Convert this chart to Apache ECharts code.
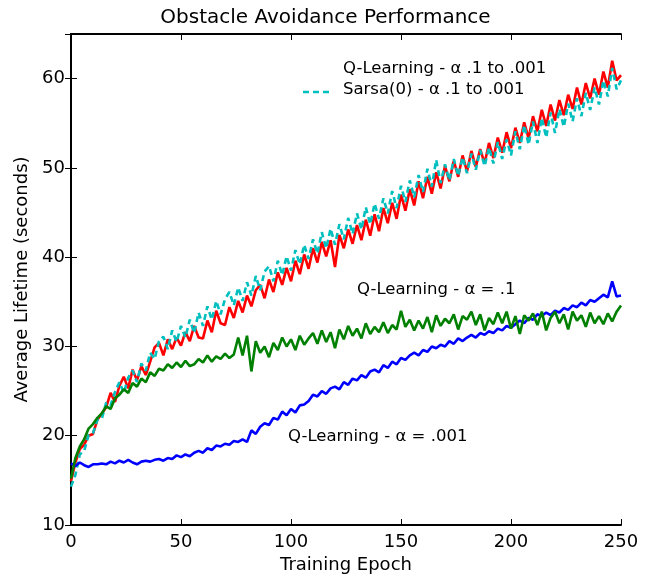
<!DOCTYPE html>
<html>
<head>
<meta charset="utf-8">
<script src="https://cdn.jsdelivr.net/npm/echarts@6/dist/echarts.min.js"></script>
<style>
  html, body { margin: 0; padding: 0; background: #fff; }
  #chart { width: 651px; height: 579px; }
</style>
</head>
<body>
<div id="chart"></div>
<script>
// training epochs (every 2nd epoch)
const epochs = [0,2,4,6,8,10,12,14,16,18,20,22,24,26,28,30,32,34,36,38,40,42,44,46,48,50,52,54,56,58,60,62,64,66,68,70,72,74,76,78,80,82,84,86,88,90,92,94,96,98,100,102,104,106,108,110,112,114,116,118,120,122,124,126,128,130,132,134,136,138,140,142,144,146,148,150,152,154,156,158,160,162,164,166,168,170,172,174,176,178,180,182,184,186,188,190,192,194,196,198,200,202,204,206,208,210,212,214,216,218,220,222,224,226,228,230,232,234,236,238,240,242,244,246,248,250];

// Q-Learning, alpha .1 to .001 (red)
const qDecay = [14.9,17.0,18.5,19.0,20.0,20.2,21.8,22.5,23.2,24.8,23.8,25.6,26.6,25.3,27.4,26.2,27.8,26.8,28.3,29.9,30.4,29.0,30.8,29.7,31.0,30.1,31.6,30.6,32.3,31.0,30.9,32.9,31.6,34.0,32.6,32.4,34.4,33.2,35.1,33.8,35.7,34.5,36.3,36.9,35.4,37.5,36.1,38.3,36.9,38.8,37.3,39.6,38.1,40.3,38.7,41.0,39.4,41.7,40.1,41.9,38.9,42.5,41.0,43.1,41.5,43.6,41.9,44.2,42.4,44.8,42.9,45.5,43.8,46.1,44.3,47.0,45.2,47.6,45.8,48.5,46.6,49.0,47.1,49.5,47.7,50.2,48.5,50.8,49.0,51.4,49.6,51.9,50.1,52.1,50.5,52.8,51.1,53.4,51.7,54.0,52.2,54.5,52.8,55.1,53.3,55.8,54.1,56.5,54.7,57.1,55.3,57.6,55.9,58.2,56.6,59.0,57.1,59.5,57.8,60.0,58.2,60.8,59.0,62.0,59.8,60.4];

// Sarsa(0), alpha .1 to .001 (cyan dashed)
const sarsa = [14.3,15.6,17.9,18.3,20.1,20.3,21.8,21.9,23.7,23.4,24.9,26.0,24.8,26.5,27.3,26.0,28.1,27.3,29.3,28.6,30.6,31.1,29.7,31.8,30.5,32.3,31.0,33.0,31.5,33.8,32.3,34.5,33.0,35.1,33.6,35.3,36.1,34.6,36.6,35.1,37.2,35.7,37.9,36.3,38.4,39.0,37.3,39.6,38.0,40.1,38.5,40.8,39.2,41.4,39.8,42.0,40.4,42.8,41.0,43.2,41.4,43.7,42.0,44.4,42.6,44.9,43.1,45.6,43.7,46.0,44.3,46.6,44.9,47.4,45.5,48.0,46.2,48.6,46.7,49.2,47.3,49.9,47.9,50.9,48.3,50.4,48.6,51.0,49.1,51.2,49.4,51.6,49.8,52.0,50.2,52.3,50.5,52.9,51.0,53.2,51.4,54.1,52.1,54.8,52.6,55.2,52.8,55.6,53.4,56.2,53.9,56.6,54.6,57.2,55.2,57.8,55.8,58.4,56.5,59.0,57.1,59.8,58.0,61.2,58.8,59.8];

// Q-Learning, alpha = .1 (green)
const qFast = [15.2,17.5,18.8,19.6,20.8,21.3,22.0,22.5,23.3,23.0,24.2,24.6,25.2,24.8,25.9,25.5,26.4,26.0,27.1,26.7,27.5,27.3,28.0,27.6,28.2,27.7,28.4,27.8,28.0,28.6,28.2,29.0,28.3,28.9,28.6,29.2,28.7,29.1,31.0,29.0,31.2,27.2,30.6,29.3,30.0,28.8,30.4,29.6,31.0,30.0,30.8,29.6,31.2,30.2,30.9,31.5,30.3,31.8,30.5,31.6,29.8,31.9,30.8,32.3,31.2,32.0,30.9,32.6,31.4,32.2,31.6,32.7,31.5,32.4,31.9,34.0,32.2,33.0,31.8,32.9,32.0,33.3,31.6,33.5,32.3,33.1,32.6,33.6,31.9,33.4,33.0,33.9,32.4,33.6,31.8,33.2,32.5,33.8,32.6,33.9,32.0,33.4,31.4,33.5,32.9,33.7,32.4,33.9,31.8,33.2,33.9,32.6,33.6,31.9,33.9,32.9,33.5,32.2,33.8,32.6,33.4,32.5,33.7,32.8,33.9,34.6];

// Q-Learning, alpha = .001 (blue)
const qSlow = [16.9,16.6,17.0,16.7,16.5,16.8,16.8,16.9,16.8,17.1,16.9,17.2,17.0,17.3,17.0,16.8,17.1,17.2,17.1,17.3,17.4,17.2,17.5,17.4,17.8,17.6,17.9,17.7,18.1,18.3,18.1,18.6,18.4,18.9,18.8,19.1,19.0,19.4,19.3,19.6,19.3,20.6,20.2,21.0,21.4,21.2,22.0,21.8,22.7,22.3,23.0,22.6,23.4,23.5,23.9,24.6,24.4,25.0,24.7,25.3,25.5,25.2,26.0,25.7,26.4,26.2,26.8,26.5,27.2,27.4,27.1,27.9,27.6,28.3,28.0,28.7,28.5,29.0,29.3,29.0,29.6,29.4,30.0,29.8,30.2,30.0,30.6,30.3,30.9,30.6,31.0,31.3,31.0,31.5,31.3,31.7,31.5,32.0,31.8,32.3,32.1,32.5,32.9,32.6,33.2,33.0,33.6,33.4,33.8,33.5,34.0,33.8,34.3,34.1,34.6,34.4,34.9,34.6,35.2,35.0,35.4,35.8,35.5,37.3,35.6,35.7];

const FONT = "DejaVu Sans";

function pairs(vals) {
  return epochs.map((e, i) => [e, vals[i]]);
}

function lineSeries(name, vals, color, dashed) {
  return {
    name: name,
    type: "line",
    data: pairs(vals),
    showSymbol: false,
    symbol: "none",
    animation: false,
    lineStyle: {
      color: color,
      width: 2.6,
      type: dashed ? [6, 4] : "solid",
    },
    z: 3,
  };
}

const axisLine = { show: true, lineStyle: { color: "#000", width: 2 } };
const axisTick = { show: true, inside: true, length: 6, lineStyle: { color: "#000", width: 1 } };

const chart = echarts.init(document.getElementById("chart"));
chart.setOption({
  backgroundColor: "#fff",
  animation: false,
  title: {
    text: "Obstacle Avoidance Performance",
    left: "center",
    top: 3,
    textStyle: { fontFamily: FONT, fontSize: 20, fontWeight: "normal", color: "#000" },
  },
  grid: { left: 71, right: 30, top: 34, bottom: 52 },
  xAxis: [
    {
      type: "value",
      min: 0,
      max: 250,
      interval: 50,
      position: "bottom",
      axisLine, axisTick,
      splitLine: { show: false },
      axisLabel: { color: "#000", fontFamily: FONT, fontSize: 18, margin: 8 },
      name: "Training Epoch",
      nameLocation: "middle",
      nameGap: 31,
      nameTextStyle: { color: "#000", fontFamily: FONT, fontSize: 18 },
    },
    {
      type: "value",
      min: 0,
      max: 250,
      interval: 50,
      position: "top",
      axisLine, axisTick,
      splitLine: { show: false },
      axisLabel: { show: false },
    },
  ],
  yAxis: [
    {
      type: "value",
      min: 10,
      max: 65,
      interval: 10,
      position: "left",
      axisLine, axisTick,
      splitLine: { show: false },
      axisLabel: { color: "#000", fontFamily: FONT, fontSize: 18, margin: 6, showMaxLabel: false },
      name: "Average Lifetime (seconds)",
      nameLocation: "middle",
      nameGap: 40,
      nameTextStyle: { color: "#000", fontFamily: FONT, fontSize: 18 },
    },
    {
      type: "value",
      min: 10,
      max: 65,
      interval: 10,
      position: "right",
      axisLine, axisTick,
      splitLine: { show: false },
      axisLabel: { show: false },
    },
  ],
  series: [
    lineSeries("Q-Learning - α .1 to .001", qDecay, "#ff0000", false),
    lineSeries("Sarsa(0) - α .1 to .001", sarsa, "#00bfbf", true),
    lineSeries("Q-Learning - α = .001", qSlow, "#0000ff", false),
    lineSeries("Q-Learning - α = .1", qFast, "#008000", false),
  ],
  graphic: [
    { type: "text", left: 343, top: 60, style: { text: "Q-Learning - α .1 to .001", fill: "#000", font: "16.5px " + FONT } },
    { type: "line", shape: { x1: 303, y1: 92, x2: 331, y2: 92 }, style: { stroke: "#00bfbf", lineWidth: 2.6, lineDash: [6, 4] } },
    { type: "text", left: 343, top: 81, style: { text: "Sarsa(0) - α .1 to .001", fill: "#000", font: "16.5px " + FONT } },
    { type: "text", left: 357, top: 281, style: { text: "Q-Learning - α = .1", fill: "#000", font: "16.5px " + FONT } },
    { type: "text", left: 288, top: 428, style: { text: "Q-Learning - α = .001", fill: "#000", font: "16.5px " + FONT } },
  ],
});
</script>
</body>
</html>
